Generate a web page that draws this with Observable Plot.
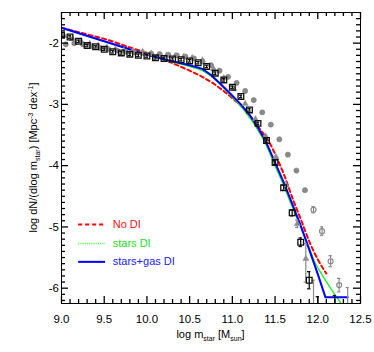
<!DOCTYPE html>
<html><head><meta charset="utf-8">
<script src="https://cdn.jsdelivr.net/npm/d3@7"></script>
<script src="https://cdn.jsdelivr.net/npm/@observablehq/plot@0.6"></script>
<style>body{margin:0;background:#fff}</style>
</head><body><div id="chart"></div>
<script>
// ---- data ----
// black open squares (observed mass function)
const sqX   = [9.0,9.1,9.2,9.3,9.4,9.5,9.6,9.7,9.8,9.9,10.0,10.1,10.2,10.3,10.4,10.5,10.6,10.7,10.8,10.9,11.0,11.1,11.2,11.3,11.4,11.5,11.6,11.7,11.8,11.9,12.0,12.2];
const sqY   = [-1.87,-1.90,-1.97,-2.04,-2.06,-2.10,-2.14,-2.16,-2.18,-2.20,-2.21,-2.24,-2.25,-2.26,-2.27,-2.29,-2.32,-2.38,-2.49,-2.60,-2.72,-2.87,-3.09,-3.31,-3.59,-3.95,-4.36,-4.77,-5.25,-5.87,-6.45,-6.45];
const sqErr = [0.02,0.02,0.02,0.02,0.02,0.02,0.02,0.02,0.02,0.02,0.02,0.02,0.02,0.02,0.02,0.02,0.02,0.02,0.02,0.02,0.02,0.02,0.02,0.02,0.03,0.03,0.04,0.05,0.07,0.14,0.31,0.33];
// gray circles
const circX   = [9.05,9.15,9.25,9.35,9.45,9.55,9.65,9.75,9.85,9.95,10.05,10.15,10.25,10.35,10.45,10.55,10.65,10.75,10.85,10.95,11.05,11.15,11.25,11.35,11.45,11.55,11.65,11.75,11.85,11.95,12.05,12.15,12.25,12.35];
const circY   = [-2.02,-2.00,-2.02,-2.05,-2.08,-2.10,-2.12,-2.14,-2.15,-2.16,-2.17,-2.18,-2.19,-2.20,-2.22,-2.25,-2.30,-2.36,-2.45,-2.55,-2.65,-2.78,-2.93,-3.13,-3.33,-3.57,-3.82,-4.08,-4.40,-4.72,-5.07,-5.56,-5.95,-6.32];
const circErr = [0,0,0,0,0,0,0,0,0,0,0,0,0,0,0,0,0,0,0,0,0,0,0,0,0,0,0,0,0,0.05,0.07,0.09,0.11,0.33];
// gray triangles
const triX    = [9.03,9.13,9.23,9.33,9.43,9.53,9.63,9.73,9.83,9.95,10.05,10.14,10.23,10.33,10.43,10.53,10.65,10.78,10.9,11.02,11.15,11.27,11.39,11.51,11.63,11.76,11.86,11.95];
const triY    = [-1.88,-1.93,-1.97,-2.01,-2.04,-2.07,-2.10,-2.12,-2.13,-2.14,-2.17,-2.19,-2.20,-2.21,-2.22,-2.24,-2.28,-2.42,-2.57,-2.75,-2.99,-3.24,-3.52,-3.86,-4.32,-4.95,-5.52,-6.40];
const triErrDown = [0,0,0,0,0,0,0,0,0,0,0,0,0,0,0,0,0,0,0,0,0,0,0,0,0,0.06,0.38,0.30];
const triErrUp   = [0,0,0,0,0,0,0,0,0,0,0,0,0,0,0,0,0,0,0,0,0,0,0,0,0,0.06,0.25,0.53];
// model curves
const noDIX = [9.0,9.25,9.5,9.8,10.0,10.27,10.5,10.62,10.8,11.0,11.2,11.3,11.44,11.52,11.6,11.72,11.8,11.91,12.0,12.1];
const noDIY = [-1.75,-1.84,-1.93,-2.07,-2.16,-2.31,-2.45,-2.53,-2.68,-2.90,-3.17,-3.36,-3.64,-3.87,-4.13,-4.59,-4.87,-5.27,-5.53,-5.76];
const starsX = [9.0,9.25,9.5,9.75,10.0,10.25,10.5,10.65,10.75,10.85,11.0,11.1,11.2,11.3,11.39,11.5,11.6,11.68,11.8,11.9,11.956,12.05,12.14,12.3];
const starsY = [-1.75,-1.86,-1.97,-2.08,-2.19,-2.29,-2.38,-2.45,-2.54,-2.66,-2.88,-3.03,-3.21,-3.42,-3.65,-4.00,-4.32,-4.60,-5.00,-5.34,-5.545,-5.78,-5.98,-6.30];
const gasX = [9.0,9.25,9.5,9.75,10.0,10.25,10.5,10.65,10.75,10.85,11.0,11.1,11.2,11.3,11.39,11.5,11.6,11.68,11.8,11.9,12.0,12.09,12.35];
const gasY = [-1.75,-1.86,-1.97,-2.08,-2.19,-2.28,-2.36,-2.42,-2.52,-2.65,-2.86,-3.00,-3.17,-3.38,-3.60,-3.95,-4.27,-4.55,-4.98,-5.37,-5.77,-6.15,-6.15];
// legend
const legendLabels = ["No DI","stars DI","stars+gas DI"];
const legendColors = ["#ff1010","#22dd22","#1a1aff"];
const legendY = [-4.96,-5.27,-5.57];
const legendX1 = 9.195, legendX2 = 9.51, legendTextX = 9.6;
// axes
const xMajor = [9.0,9.5,10.0,10.5,11.0,11.5,12.0,12.5];
const yMajor = [-6,-5,-4,-3,-2];

// ---- build tables ----
const squares = sqX.map((x,i)=>({x, y:sqY[i], lo:sqY[i]-sqErr[i], hi:sqY[i]+sqErr[i]}));
const circles = circX.map((x,i)=>({x, y:circY[i], e:circErr[i], lo:circY[i]-circErr[i], hi:circY[i]+circErr[i]}));
const tris = triX.map((x,i)=>({x, y:triY[i], e:triErrUp[i]+triErrDown[i], lo:triY[i]-triErrDown[i], hi:triY[i]+triErrUp[i]}));
const noDI = noDIX.map((x,i)=>({x, y:noDIY[i]}));
const stars = starsX.map((x,i)=>({x, y:starsY[i]}));
const gas = gasX.map((x,i)=>({x, y:gasY[i]}));
const legend = legendLabels.map((t,i)=>({t, y:legendY[i], c:legendColors[i], x1:legendX1, x2:legendX2, xt:legendTextX}));
const ends = arr => arr.flatMap(d=>[{x:d.x,y:d.lo},{x:d.x,y:d.hi}]);

const xMinor = d3.range(91,125).filter(v=>v%5).map(v=>v/10);
const yMinor = d3.range(-62,-15).filter(v=>v%10).map(v=>v/10);

const gray = "#8a8a8a";
const W = 374, H = 352, mL = 61, mR = 14, mT = 12, mB = 49;
const PW = W - mL - mR, PH = H - mT - mB;   // frame size in px
const TM = 7, Tm = 4;                        // major / minor inward tick lengths
const capW = -1.7;                           // negative insets widen a zero-length rule into an error-bar cap

const circOpen = circles.filter(d=>d.e>0), circFull = circles.filter(d=>d.e===0);
const triErr = tris.filter(d=>d.e>0);
const tickStyle = {stroke:"#000", strokeWidth:1.3, strokeOpacity:1};

const plot = Plot.plot({
  width: W, height: H,
  marginLeft: mL, marginRight: mR, marginTop: mT, marginBottom: mB,
  style: {fontFamily: "'Liberation Sans', Arial, Helvetica, sans-serif", fontSize: "11.5px", background: "white", color: "black"},
  x: {domain: [9, 12.5], label: null},
  y: {domain: [-6.25, -1.5], label: null},
  marks: [
    // models
    Plot.line(noDI, {x:"x", y:"y", stroke:"#ff0000", strokeWidth:2, strokeDasharray:"4,3", curve:"monotone-x", clip:true}),
    Plot.line(stars, {x:"x", y:"y", stroke:"#22ee22", strokeWidth:1.5, strokeDasharray:"1,1.2", curve:"monotone-x", clip:true}),
    Plot.line(gas, {x:"x", y:"y", stroke:"#0000ff", strokeWidth:2, clip:true}),
    // gray circles
    Plot.ruleX(circOpen, {x:"x", y1:"lo", y2:"hi", stroke:gray, strokeWidth:1.2, clip:true}),
    Plot.ruleY(ends(circOpen), {y:"y", x1:"x", x2:"x", insetLeft:capW, insetRight:capW, stroke:gray, strokeWidth:1.2, clip:true}),
    Plot.dot(circFull, {x:"x", y:"y", r:2.6, fill:gray, stroke:"#777", strokeWidth:0.5, clip:true}),
    Plot.dot(circOpen, {x:"x", y:"y", r:2.5, fill:"none", stroke:gray, strokeWidth:1.2, clip:true}),
    // gray triangles
    Plot.ruleX(triErr, {x:"x", y1:"lo", y2:"hi", stroke:gray, strokeWidth:1.2, clip:true}),
    Plot.ruleY(ends(triErr), {y:"y", x1:"x", x2:"x", insetLeft:capW, insetRight:capW, stroke:gray, strokeWidth:1.2, clip:true}),
    Plot.dot(tris, {x:"x", y:"y", symbol:"triangle", r:2.3, fill:gray, stroke:"#999", strokeWidth:0.5, clip:true}),
    // black squares
    Plot.ruleX(squares, {x:"x", y1:"lo", y2:"hi", stroke:"#111", strokeWidth:1.3, clip:true}),
    Plot.ruleY(ends(squares), {y:"y", x1:"x", x2:"x", insetLeft:capW, insetRight:capW, stroke:"#111", strokeWidth:1.3, clip:true}),
    Plot.dot(squares, {x:"x", y:"y", symbol:"square", r:3.2, fill:"none", stroke:"#111", strokeWidth:1.3, clip:true}),
    // legend
    Plot.link([legend[0]], {x1:"x1", x2:"x2", y1:"y", y2:"y", stroke:"#ff0000", strokeWidth:2, strokeDasharray:"4,3"}),
    Plot.link([legend[1]], {x1:"x1", x2:"x2", y1:"y", y2:"y", stroke:"#33ff33", strokeWidth:1.5, strokeDasharray:"1,1.2"}),
    Plot.link([legend[2]], {x1:"x1", x2:"x2", y1:"y", y2:"y", stroke:"#0000ff", strokeWidth:2}),
    Plot.text(legend, {x:"xt", y:"y", text:"t", fill:"c", textAnchor:"start", fontSize:11}),
    // frame & tick labels
    Plot.frame({stroke:"black", strokeWidth:1}),
    // inward ticks: full-frame rules trimmed by insets
    Plot.ruleX(xMajor, {x:d=>d, insetTop:PH-TM, ...tickStyle}),
    Plot.ruleX(xMinor, {x:d=>d, insetTop:PH-Tm, ...tickStyle}),
    Plot.ruleX(xMajor, {x:d=>d, insetBottom:PH-TM, ...tickStyle}),
    Plot.ruleX(xMinor, {x:d=>d, insetBottom:PH-Tm, ...tickStyle}),
    Plot.ruleY(yMajor, {y:d=>d, insetRight:PW-TM, ...tickStyle}),
    Plot.ruleY(yMinor, {y:d=>d, insetRight:PW-Tm, ...tickStyle}),
    Plot.ruleY(yMajor, {y:d=>d, insetLeft:PW-TM, ...tickStyle}),
    Plot.ruleY(yMinor, {y:d=>d, insetLeft:PW-Tm, ...tickStyle}),
    Plot.axisX({anchor:"bottom", ticks:xMajor, tickSize:0, tickPadding:11, tickFormat:d=>d.toFixed(1), label:null}),
    Plot.axisY({anchor:"left", ticks:yMajor, tickSize:0, tickPadding:2.5, tickFormat:d=>String(d), label:null})
  ]
});

const svg = d3.select(plot);

// axis titles with sub/superscripts
const fx = mL + PW / 2;
const xt = svg.append("text").attr("x", fx).attr("y", 338).attr("text-anchor","middle")
  .style("font-size","11px").style("font-family","'Liberation Sans', Arial, sans-serif").attr("fill","black");
xt.append("tspan").text("log m");
xt.append("tspan").attr("dy",3).style("font-size","7px").text("star");
xt.append("tspan").attr("dy",-3).text(" [M");
xt.append("tspan").attr("dy",3).style("font-size","7px").text("sun");
xt.append("tspan").attr("dy",-3).text("]");

const fy = mT + PH / 2;
const yt = svg.append("text").attr("transform",`translate(37,${fy}) rotate(-90)`).attr("text-anchor","middle")
  .style("font-size","11px").style("font-family","'Liberation Sans', Arial, sans-serif").attr("fill","black");
yt.append("tspan").text("log dN/(dlog m");
yt.append("tspan").attr("dy",3).style("font-size","7px").text("star");
yt.append("tspan").attr("dy",-3).text(") [Mpc");
yt.append("tspan").attr("dy",-4).style("font-size","7px").text("-3");
yt.append("tspan").attr("dy",4).text(" dex");
yt.append("tspan").attr("dy",-4).style("font-size","7px").text("-1");
yt.append("tspan").attr("dy",4).text("]");

document.getElementById("chart").appendChild(plot);
</script></body></html>
